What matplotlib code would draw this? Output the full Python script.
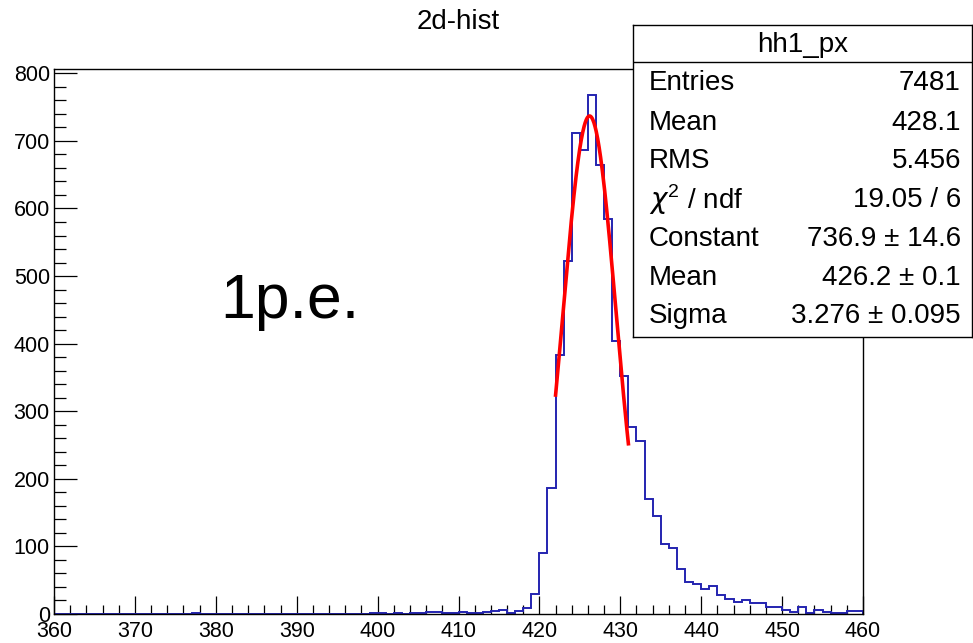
import numpy as np
import matplotlib
matplotlib.use("Agg")
import matplotlib.pyplot as plt
from matplotlib.ticker import MultipleLocator

plt.rcParams['font.family'] = ['Liberation Sans', 'DejaVu Sans']
plt.rcParams['mathtext.fontset'] = 'custom'
plt.rcParams['mathtext.rm'] = 'Liberation Sans'

# histogram hh1_px: non-empty bins (1 unit wide, lower edge) and their counts
bin_low = [377, 399, 400, 402, 404, 405, 406, 407, 408, 409, 410, 411, 412, 413, 414,
           415, 416, 417, 418, 419, 420, 421, 422, 423, 424, 425, 426, 427, 428, 429,
           430, 431, 432, 433, 434, 435, 436, 437, 438, 439, 440, 441, 442, 443, 444,
           445, 446, 447, 448, 449, 450, 451, 452, 453, 454, 455, 456, 457, 458, 459]
counts = [1, 1, 1, 1, 1, 1, 3, 3, 1, 1, 3, 1, 1, 3, 4,
          6, 2, 5, 9, 30, 90, 187, 383, 523, 711, 686, 768, 665, 584, 404,
          352, 276, 256, 170, 145, 104, 97, 67, 47, 45, 37, 41, 28, 22, 18,
          20, 17, 17, 10, 10, 6, 3, 11, 1, 6, 3, 1, 1, 4, 4]
x_min, x_max = 360, 460

# gaussian fit result (from the stats box) and fit range
fit_const, fit_mean, fit_sigma = 736.9, 426.2, 3.276
fit_range = (422, 431)

stat_labels = ["Entries", "Mean", "RMS", r"$\chi^{2}$ / ndf", "Constant", "Mean", "Sigma"]
stat_values = ["7481", "428.1", "5.456", "19.05 / 6", "736.9 ± 14.6", "426.2 ± 0.1",
               "3.276 ± 0.095"]

W, H = 973, 643
fig = plt.figure(figsize=(W / 100, H / 100), dpi=100)

def fig_rect(x0, y0, x1, y1):
    # pixel box (top-left origin) -> figure fraction rect
    return [x0 / W, 1 - y1 / H, (x1 - x0) / W, (y1 - y0) / H]

ax = fig.add_axes(fig_rect(54, 69, 863, 614))

edges = np.arange(x_min, x_max + 1)
full = np.zeros(len(edges) - 1)
for b, c in zip(bin_low, counts):
    full[b - x_min] = c
ax.stairs(full, edges, color='#2424b0', lw=1.4, zorder=2)

xf = np.linspace(fit_range[0], fit_range[1], 200)
ax.plot(xf, fit_const * np.exp(-0.5 * ((xf - fit_mean) / fit_sigma) ** 2),
        color='red', lw=2.6, zorder=3)

ax.set_xlim(x_min, x_max)
ax.set_ylim(0, 1.05 * max(counts))
ax.xaxis.set_major_locator(MultipleLocator(10))
ax.xaxis.set_minor_locator(MultipleLocator(2))
ax.yaxis.set_major_locator(MultipleLocator(100))
ax.yaxis.set_minor_locator(MultipleLocator(20))
ax.tick_params(axis='x', which='major', direction='in', length=13, width=0.9,
               labelsize=15.5, pad=5)
ax.tick_params(axis='x', which='minor', direction='in', length=6.5, width=0.9)
ax.tick_params(axis='y', which='major', direction='in', length=16.5, width=0.9,
               labelsize=15.5, pad=3)
ax.tick_params(axis='y', which='minor', direction='in', length=8.5, width=0.9)
for s in ax.spines.values():
    s.set_linewidth(1.0)
    s.set_zorder(4)

fig.text(458 / W, 1 - 22 / H, "2d-hist", ha='center', va='center', fontsize=20)
fig.text(220 / W, 1 - 318 / H, "1p.e.", ha='left', va='baseline', fontsize=45)

# stats box
sb = fig.add_axes(fig_rect(633, 25, 972, 337))
sb.set_xticks([])
sb.set_yticks([])
for s in sb.spines.values():
    s.set_linewidth(1.0)
box_h = 337 - 25
sb.axhline(1 - (62 - 25) / box_h, color='black', lw=1.0)
sb.text(0.5, 1 - (45 - 25) / box_h, "hh1_px", ha='center', va='center', fontsize=20)
row_y = [83, 123, 161, 200, 239, 278, 316]
for lab, val, y in zip(stat_labels, stat_values, row_y):
    yf = 1 - (y - 25) / box_h
    sb.text(16 / 339, yf, lab, ha='left', va='center', fontsize=20)
    sb.text(1 - 11 / 339, yf, val, ha='right', va='center', fontsize=20)

fig.savefig("out.png", dpi=100)
